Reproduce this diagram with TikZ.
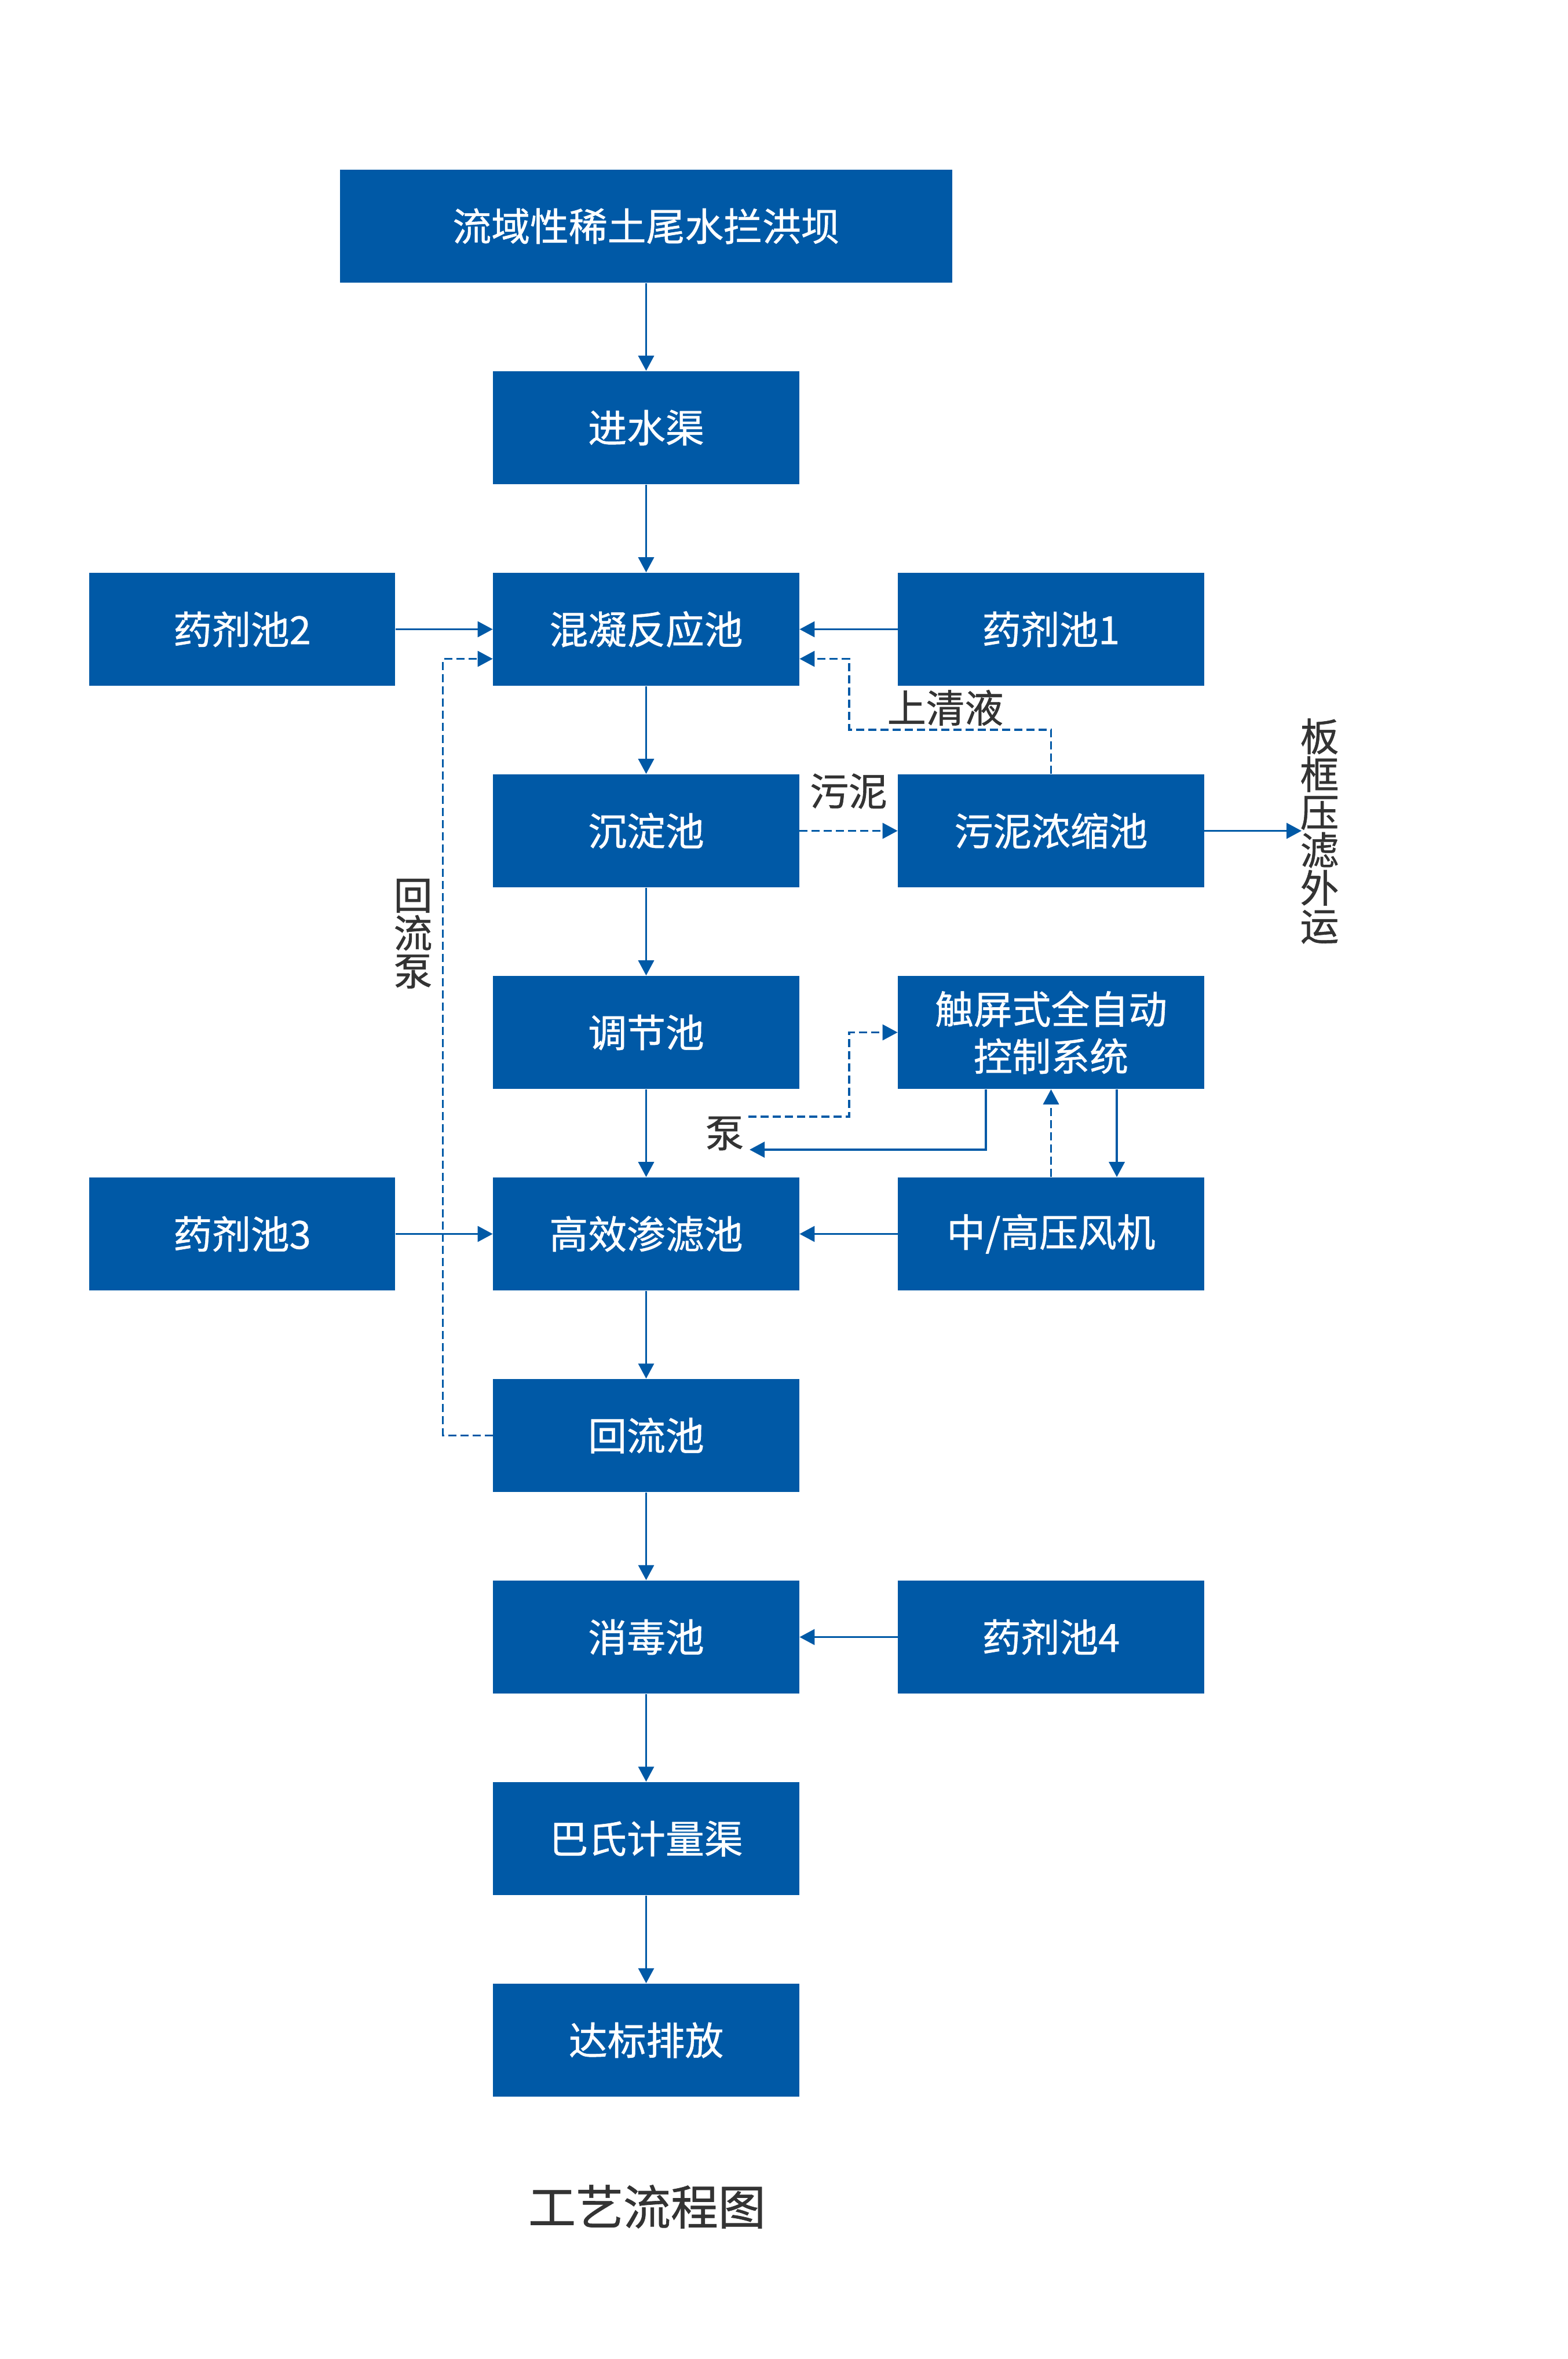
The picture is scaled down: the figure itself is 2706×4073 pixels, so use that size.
\documentclass[tikz,border=0pt]{standalone}
\usepackage{fontspec}
\newfontfamily\cjk[FakeBold=0.8]{Noto Sans CJK SC}
\usetikzlibrary{arrows.meta}
\definecolor{boxblue}{RGB}{0,89,166}
\definecolor{txtgray}{RGB}{51,51,51}
\begin{document}
\begin{tikzpicture}[x=0.01cm,y=-0.01cm,
  box/.style={fill=boxblue,draw=none,inner sep=0pt,minimum width=5.28cm,minimum height=1.95cm,text=white,font=\cjk\fontsize{19pt}{24pt}\selectfont,align=center},
  ln/.style={draw=boxblue,line width=0.95pt,-{Triangle[length=0.26cm,width=0.27cm]}},
  dl/.style={ln,dash pattern=on 0.14cm off 0.07cm},
  lbl/.style={text=txtgray,font=\cjk\fontsize{19pt}{23pt}\selectfont,inner sep=0pt,align=center},
  vlbl/.style={text=txtgray,font=\cjk\fontsize{19pt}{18.6pt}\selectfont,inner sep=0pt,align=center}
]
\useasboundingbox[fill=white] (0,0) rectangle (2706,4073);

% main column
\node[box,minimum width=10.57cm] (top) at (1115.5,390.5) {流域性稀土尾水拦洪坝};
\node[box] (js) at (1115.5,738.5) {进水渠};
\node[box] (hn) at (1115.5,1086.5) {混凝反应池};
\node[box] (cd) at (1115.5,1434.5) {沉淀池};
\node[box] (tj) at (1115.5,1782.5) {调节池};
\node[box] (gx) at (1115.5,2130.5) {高效渗滤池};
\node[box] (hl) at (1115.5,2478.5) {回流池};
\node[box] (xd) at (1115.5,2826.5) {消毒池};
\node[box] (bs) at (1115.5,3174.5) {巴氏计量渠};
\node[box] (db) at (1115.5,3522.5) {达标排放};

% side columns
\node[box] (yj2) at (418,1086.5) {药剂池2};
\node[box] (yj3) at (418,2130.5) {药剂池3};
\node[box] (yj1) at (1814.5,1086.5) {药剂池1};
\node[box] (nz) at (1814.5,1434.5) {污泥浓缩池};
\node[box] (ctl) at (1814.5,1782.5) {触屏式全自动\\[-0.03cm]控制系统};
\node[box] (fj) at (1814.5,2130.5) {中/高压风机};
\node[box] (yj4) at (1814.5,2826.5) {药剂池4};

% labels
\node[lbl] (sq) at (1632,1222) {上清液};
\node[lbl] (wn) at (1465,1366) {污泥};
\node[lbl] (beng) at (1251,1957) {泵};
\node[vlbl] (hlb) at (713,1612) {回\\流\\泵};
\node[vlbl] (bk) at (2278,1435) {板\\框\\压\\滤\\外\\运};
\node[lbl,font=\cjk\fontsize{23.3pt}{28pt}\selectfont] (title) at (1117,3810) {工艺流程图};

\coordinate (bkin) at (2247,1434.5);
\coordinate (pumpA) at (1292,1928);
\coordinate (pumpB) at (1294,1985);

% main flow
\draw[ln] (top) -- (js);
\draw[ln] (js) -- (hn);
\draw[ln] (hn) -- (cd);
\draw[ln] (cd) -- (tj);
\draw[ln] (tj) -- (gx);
\draw[ln] (gx) -- (hl);
\draw[ln] (hl) -- (xd);
\draw[ln] (xd) -- (bs);
\draw[ln] (bs) -- (db);

% side inputs
\draw[ln] (yj2) -- (hn);
\draw[ln] (yj1) -- (hn);
\draw[ln] (yj3) -- (gx);
\draw[ln] (fj) -- (gx);
\draw[ln] (yj4) -- (xd);

% sludge
\draw[dl] (cd) -- (nz);
\draw[ln] (nz) -- (bkin);
\draw[dl] (nz.north) |- (1466,1260) |- ([yshift=-0.51cm]hn.east);

% return pump
\draw[dl] (hl.west) -- ++(-86,0) |- ([yshift=-0.51cm]hn.west);

% control
\draw[dl] (pumpA) -- (1466,1928) |- (ctl.west);
\draw[ln] ([xshift=-1.125cm]ctl.south) |- (pumpB);
\draw[dl] (fj.north) -- (ctl.south);
\draw[ln] ([xshift=1.135cm]ctl.south) -- ([xshift=1.135cm]fj.north);
\end{tikzpicture}
\end{document}
